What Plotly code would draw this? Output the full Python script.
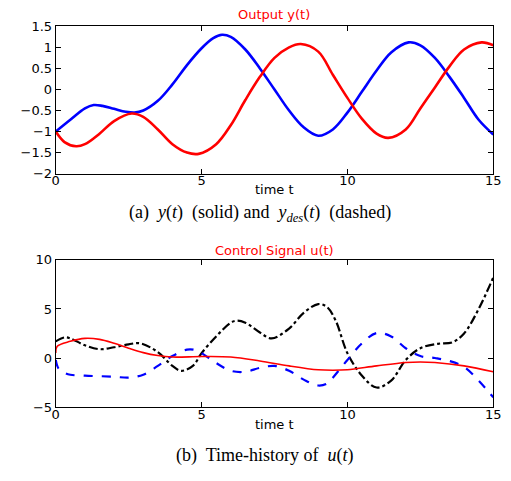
import plotly.graph_objects as go

# ---- Data ----
t_y_blue = [0, 0.5, 1.0, 1.3, 1.6, 2.0, 2.4, 2.7, 3.0, 3.5, 4.0, 4.5, 5.0, 5.4, 5.7, 6.0, 6.5, 7.0, 7.5,
            8.0, 8.5, 9.0, 9.5, 10.0, 10.5, 11.0, 11.5, 12.1, 12.5, 13.0, 13.5, 14.0, 14.5, 15.0]
y_blue = [-1.0, -0.72, -0.45, -0.37, -0.39, -0.46, -0.53, -0.55, -0.5, -0.27, 0.12, 0.58, 0.98, 1.22, 1.3,
          1.25, 0.95, 0.5, 0.0, -0.5, -0.9, -1.1, -0.95, -0.55, -0.05, 0.45, 0.88, 1.12, 1.05, 0.75, 0.3,
          -0.2, -0.72, -1.07]

t_y_red = [0, 0.3, 0.7, 1.0, 1.5, 2.0, 2.6, 3.0, 3.5, 4.0, 4.5, 4.9, 5.5, 6.0, 6.5, 7.0, 7.5, 8.0, 8.4,
           9.0, 9.5, 10.0, 10.5, 11.0, 11.4, 12.0, 12.5, 13.0, 13.5, 14.0, 14.6, 15.0]
y_red = [-1.0, -1.25, -1.35, -1.3, -1.05, -0.75, -0.57, -0.65, -0.95, -1.3, -1.5, -1.53, -1.3, -0.85,
         -0.25, 0.3, 0.75, 1.0, 1.08, 0.9, 0.35, -0.2, -0.7, -1.05, -1.15, -0.95, -0.45, 0.05, 0.55,
         0.95, 1.12, 1.05]

t_u_red = [0, 0.05, 0.5, 1.0, 1.5, 2.0, 2.5, 3.0, 3.5, 4.0, 5.0, 6.0, 7.0, 8.0, 9.0, 9.5, 10.0, 11.0,
           12.0, 12.5, 13.0, 14.0, 15.0]
u_red = [0.5, 1.2, 1.7, 2.0, 1.9, 1.5, 1.0, 0.55, 0.25, 0.1, 0.15, 0.1, -0.3, -0.8, -1.2, -1.25, -1.2,
         -0.8, -0.45, -0.4, -0.45, -0.8, -1.4]

t_u_blue = [0, 0.1, 0.3, 0.5, 1.0, 2.0, 2.5, 3.0, 3.5, 4.0, 4.5, 4.8, 5.0, 5.5, 6.0, 6.5, 7.0, 7.5, 8.0,
            8.5, 9.0, 9.3, 9.5, 10.0, 10.5, 11.0, 11.5, 12.0, 12.5, 13.0, 13.5, 14.0, 14.5, 15.0]
u_blue = [-0.2, -1.1, -1.5, -1.7, -1.8, -1.9, -2.0, -1.7, -0.8, 0.2, 0.85, 0.8, 0.5, -0.5, -1.3, -1.4,
          -1.0, -0.8, -1.3, -2.2, -2.8, -2.6, -2.0, -0.2, 1.5, 2.55, 2.2, 1.0, 0.2, 0.0, -0.3, -0.9,
          -2.3, -4.0]

t_u_black = [0, 0.3, 0.5, 1.0, 1.5, 2.0, 2.5, 2.9, 3.5, 4.0, 4.3, 4.7, 5.0, 5.5, 6.0, 6.2, 6.5, 7.0, 7.4,
             8.0, 8.5, 9.0, 9.3, 9.6, 10.0, 10.5, 11.0, 11.5, 12.0, 12.5, 13.1, 13.6, 14.0, 14.5, 15.0]
u_black = [1.7, 2.1, 2.0, 1.3, 0.9, 1.1, 1.4, 1.5, 0.6, -0.8, -1.3, -0.8, 0.5, 2.2, 3.6, 3.8, 3.6, 2.6,
           2.0, 3.0, 4.6, 5.5, 5.2, 3.8, 0.5, -1.8, -3.0, -2.3, -0.2, 1.0, 1.45, 1.6, 2.5, 5.0, 8.2]

x_ticks = [0, 5, 10, 15]
x_ticklabels = ["0", "5", "10", "15"]
y1_ticks = [1.5, 1, 0.5, 0, -0.5, -1, -1.5, -2]
y1_ticklabels = ["1.5", "1", "0.5", "0", "\u22120.5", "\u22121", "\u22121.5", "\u22122"]
y2_ticks = [10, 5, 0, -5]
y2_ticklabels = ["10", "5", "0", "\u22125"]

# ---- Figure ----
W, H = 511, 481
def py(px):
    return 1 - px / H

fig = go.Figure()
fig.add_trace(go.Scatter(x=t_y_blue, y=y_blue, mode="lines", line=dict(color="#0000ff", width=2.6, shape="spline"),
                         xaxis="x", yaxis="y", showlegend=False))
fig.add_trace(go.Scatter(x=t_y_red, y=y_red, mode="lines", line=dict(color="#ff0000", width=2.6, shape="spline"),
                         xaxis="x", yaxis="y", showlegend=False))
fig.add_trace(go.Scatter(x=t_u_black, y=u_black, mode="lines",
                         line=dict(color="#000000", width=2.2, shape="spline", dash="dashdot"),
                         xaxis="x2", yaxis="y2", showlegend=False))
fig.add_trace(go.Scatter(x=t_u_blue, y=u_blue, mode="lines",
                         line=dict(color="#0000ff", width=2.2, shape="spline", dash="dash"),
                         xaxis="x2", yaxis="y2", showlegend=False))
fig.add_trace(go.Scatter(x=t_u_red, y=u_red, mode="lines",
                         line=dict(color="#ff0000", width=1.6, shape="spline"),
                         xaxis="x2", yaxis="y2", showlegend=False))

axis_font = dict(family="DejaVu Sans, Liberation Sans, sans-serif", size=13, color="#000000")
common = dict(showline=True, linecolor="#000000", linewidth=1, mirror="allticks", ticks="inside",
              ticklen=5, tickcolor="#000000", showgrid=False, zeroline=False, tickfont=axis_font,
              ticklabeloverflow="allow")
xcommon = dict(common, ticklabelstandoff=-5)

xd = [53 / W, 501 / W]
fig.update_layout(
    width=W, height=H, margin=dict(l=0, r=0, t=0, b=0),
    paper_bgcolor="white", plot_bgcolor="white",
    xaxis=dict(domain=xd, range=[0, 15], tickvals=x_ticks, ticktext=x_ticklabels, anchor="y", **xcommon),
    yaxis=dict(domain=[py(172), py(20)], range=[-2, 1.5], tickvals=y1_ticks, ticktext=y1_ticklabels,
               anchor="x", **common),
    xaxis2=dict(domain=xd, range=[0, 15], tickvals=x_ticks, ticktext=x_ticklabels, anchor="y2", **xcommon),
    yaxis2=dict(domain=[py(413), py(261)], range=[-5, 10], tickvals=y2_ticks, ticktext=y2_ticklabels,
                anchor="x2", **common),
)

title_font = dict(family="DejaVu Sans, Liberation Sans, sans-serif", size=13, color="#ff0000")
label_font = dict(family="DejaVu Sans, Liberation Sans, sans-serif", size=13, color="#000000")
cap_font = dict(family="Liberation Serif, Times New Roman, serif", size=18, color="#000000")
cx = (53 + 501) / 2 / W
ann = [
    dict(text="Output y(t)", x=cx, y=py(8), font=title_font),
    dict(text="time t", x=cx, y=py(188), font=label_font),
    dict(text="(a)  <i>y</i>(<i>t</i>)  (solid) and  <i>y</i><sub><i>des</i></sub>(<i>t</i>)  (dashed)",
         x=262 / W, y=py(213), font=cap_font),
    dict(text="Control Signal u(t)", x=cx, y=py(251), font=title_font),
    dict(text="time t", x=cx, y=py(431), font=label_font),
    dict(text="(b)  Time-history of  <i>u</i>(<i>t</i>)", x=267 / W, y=py(463), font=cap_font),
]
for a in ann:
    fig.add_annotation(xref="paper", yref="paper", showarrow=False, xanchor="center", yanchor="middle", **a)

fig.write_html("out.html", config={"displayModeBar": False},
               post_script="document.body.style.margin='0';document.body.style.overflow='hidden';")
